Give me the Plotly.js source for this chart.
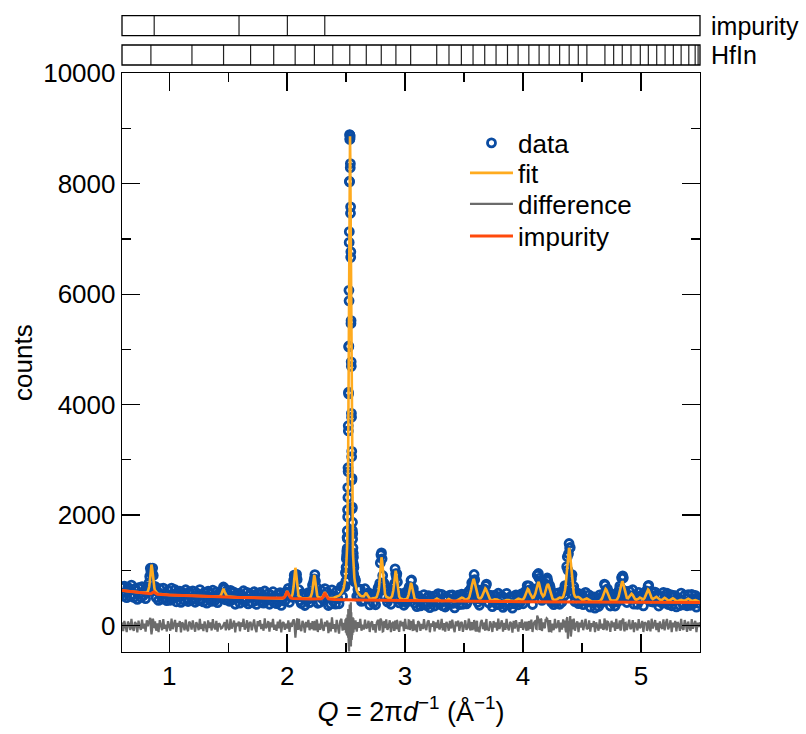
<!DOCTYPE html>
<html><head><meta charset="utf-8">
<script src="https://cdn.plot.ly/plotly-3.0.1.min.js"></script>
<style>html,body{margin:0;padding:0;background:#fff}#chart{width:806px;height:734px}</style>
</head><body><div id="chart"></div>
<script>
// Q (1/Angstrom) sampling points read along the pattern
const Q = [
0.60,0.61,0.62,0.63,0.64,0.65,0.66,0.67,0.68,0.69,
0.70,0.71,0.72,0.73,0.74,0.75,0.76,0.77,0.78,0.79,
0.80,0.81,0.82,0.83,0.84,0.85,0.86,0.87,0.88,0.89,
0.90,0.91,0.92,0.93,0.94,0.95,0.96,0.97,0.98,0.99,
1.00,1.01,1.02,1.03,1.04,1.05,1.06,1.07,1.08,1.09,
1.10,1.11,1.12,1.13,1.14,1.15,1.16,1.17,1.18,1.19,
1.20,1.21,1.22,1.23,1.24,1.25,1.26,1.27,1.28,1.29,
1.30,1.31,1.32,1.33,1.34,1.35,1.36,1.37,1.38,1.39,
1.40,1.41,1.42,1.43,1.44,1.45,1.46,1.47,1.48,1.49,
1.50,1.51,1.52,1.53,1.54,1.55,1.56,1.57,1.58,1.59,
1.60,1.61,1.62,1.63,1.64,1.65,1.66,1.67,1.68,1.69,
1.70,1.71,1.72,1.73,1.74,1.75,1.76,1.77,1.78,1.79,
1.80,1.81,1.82,1.83,1.84,1.85,1.86,1.87,1.88,1.89,
1.90,1.91,1.92,1.93,1.94,1.95,1.96,1.97,1.98,1.99,
2.00,2.01,2.02,2.03,2.04,2.05,2.06,2.07,2.08,2.09,
2.10,2.11,2.12,2.13,2.14,2.15,2.16,2.17,2.18,2.19,
2.20,2.21,2.22,2.23,2.24,2.25,2.26,2.27,2.28,2.29,
2.30,2.31,2.32,2.33,2.34,2.35,2.36,2.37,2.38,2.39,
2.40,2.41,2.42,2.43,2.44,2.45,2.46,2.47,2.48,
2.490,2.494,2.498,
2.500,2.501,2.502,2.503,2.504,2.505,2.506,2.507,2.508,2.509,
2.510,2.511,2.512,2.513,2.514,2.515,2.516,2.517,2.518,2.519,
2.520,2.521,2.522,2.523,2.524,2.525,2.526,2.527,2.528,2.529,
2.530,2.531,2.532,2.533,2.534,2.535,2.536,2.537,2.538,2.539,
2.540,2.541,2.542,2.543,2.544,2.545,2.546,2.547,2.548,2.549,
2.550,2.551,2.552,2.553,2.554,2.555,2.556,2.557,2.558,2.559,
2.560,2.561,2.562,2.563,2.564,2.565,2.566,
2.570,2.574,
2.58,2.59,
2.60,2.61,2.62,2.63,2.64,2.65,2.66,2.67,2.68,2.69,
2.70,2.71,2.72,2.73,2.74,2.75,2.76,2.77,2.78,2.79,
2.80,2.81,2.82,2.83,2.84,2.85,2.86,2.87,2.88,2.89,
2.90,2.91,2.92,2.93,2.94,2.95,2.96,2.97,2.98,2.99,
3.00,3.01,3.02,3.03,3.04,3.05,3.06,3.07,3.08,3.09,
3.10,3.11,3.12,3.13,3.14,3.15,3.16,3.17,3.18,3.19,
3.20,3.21,3.22,3.23,3.24,3.25,3.26,3.27,3.28,3.29,
3.30,3.31,3.32,3.33,3.34,3.35,3.36,3.37,3.38,3.39,
3.40,3.41,3.42,3.43,3.44,3.45,3.46,3.47,3.48,3.49,
3.50,3.51,3.52,3.53,3.54,3.55,3.56,3.57,3.58,3.59,
3.60,3.61,3.62,3.63,3.64,3.65,3.66,3.67,3.68,3.69,
3.70,3.71,3.72,3.73,3.74,3.75,3.76,3.77,3.78,3.79,
3.80,3.81,3.82,3.83,3.84,3.85,3.86,3.87,3.88,3.89,
3.90,3.91,3.92,3.93,3.94,3.95,3.96,3.97,3.98,3.99,
4.00,4.01,4.02,4.03,4.04,4.05,4.06,4.07,4.08,4.09,
4.10,4.11,4.12,4.13,4.14,4.15,4.16,4.17,4.18,4.19,
4.20,4.21,4.22,4.23,4.24,4.25,4.26,4.27,4.28,4.29,
4.30,4.31,4.32,4.33,4.34,4.35,4.36,4.37,4.38,4.39,
4.40,4.41,4.42,4.43,4.44,4.45,4.46,4.47,4.48,4.49,
4.50,4.51,4.52,4.53,4.54,4.55,4.56,4.57,4.58,4.59,
4.60,4.61,4.62,4.63,4.64,4.65,4.66,4.67,4.68,4.69,
4.70,4.71,4.72,4.73,4.74,4.75,4.76,4.77,4.78,4.79,
4.80,4.81,4.82,4.83,4.84,4.85,4.86,4.87,4.88,4.89,
4.90,4.91,4.92,4.93,4.94,4.95,4.96,4.97,4.98,4.99,
5.00,5.01,5.02,5.03,5.04,5.05,5.06,5.07,5.08,5.09,
5.10,5.11,5.12,5.13,5.14,5.15,5.16,5.17,5.18,5.19,
5.20,5.21,5.22,5.23,5.24,5.25,5.26,5.27,5.28,5.29,
5.30,5.31,5.32,5.33,5.34,5.35,5.36,5.37,5.38,5.39,
5.40,5.41,5.42,5.43,5.44,5.45,5.46,5.47,5.48,5.49,
5.50
];

// calculated pattern (fit), counts
const fitCounts = [
635,632,629,626,623,620,617,614,611,608,
605,603,600,598,596,594,591,595,595,594,
598,603,621,697,897,1103,919,730,635,599,
581,574,570,567,565,563,560,559,557,555,
552,551,550,549,548,548,547,546,545,544,
543,542,541,540,539,539,538,537,536,535,
534,533,533,532,531,531,530,529,529,528,
527,527,526,526,525,524,526,525,524,524,
524,525,527,531,554,611,667,610,551,528,
522,519,517,515,513,512,511,511,510,510,
509,508,508,507,507,506,506,505,505,504,
503,503,502,502,501,501,500,500,499,499,
498,497,497,496,496,495,495,494,494,493,
493,492,492,491,491,490,490,499,519,575,
626,580,534,522,537,618,832,1045,831,613,
528,508,500,493,490,492,492,493,496,501,
521,585,752,914,751,585,521,506,500,505,
520,564,603,560,516,501,499,496,499,501,
506,512,518,527,539,557,583,620,680,
784,848,936,
994,1027,1064,1106,1153,1207,1269,1340,1422,1516,
1626,1752,1896,2066,2258,2478,2727,3007,3318,3664,
4044,4454,4895,5362,5849,6349,6847,7332,7785,8184,
8510,8741,8861,8861,8741,8510,8184,7785,7332,6847,
6348,5848,5361,4894,4453,4043,3662,3316,3005,2725,
2476,2256,2064,1894,1750,1624,1514,1420,1338,1267,
1205,1151,1104,1062,1025,992,961,
864,795,
721,641,
594,563,540,530,522,528,560,593,550,508,
490,484,488,489,496,503,520,569,722,1013,
1235,1012,717,563,520,503,499,496,505,535,
639,839,991,835,630,523,492,479,474,471,
471,477,497,560,678,772,678,555,490,469,
460,457,454,452,451,449,446,446,445,445,
445,445,444,444,450,459,475,488,475,458,
449,445,443,442,447,455,470,481,469,454,
446,441,440,445,453,461,475,493,504,498,
481,471,468,477,498,554,653,776,843,776,
659,563,509,490,492,518,569,637,672,633,
562,506,474,460,458,465,474,479,471,458,
446,442,440,441,443,452,462,468,462,454,
446,441,442,445,456,470,485,479,468,464,
473,501,554,624,664,639,571,520,498,506,
547,629,734,792,731,629,555,526,547,613,
703,752,702,606,529,485,465,463,467,478,
493,505,500,501,520,578,706,945,1243,1405,
1243,948,712,581,525,511,516,517,503,482,
466,463,470,483,488,477,459,445,437,433,
437,435,432,434,437,444,460,492,550,623,
663,628,556,499,467,453,448,448,451,460,
483,530,623,738,801,743,630,541,498,493,
516,554,574,552,509,477,467,474,486,506,
491,477,474,496,548,612,649,611,541,498,
479,487,507,519,502,472,456,454,468,489,
501,489,466,452,451,464,480,492,480,457,
444,442,450,458,466,458,453,450,460,474,
486,474,460,448,449,458,460,453,439,428,
422
];

// observed minus calculated, counts
const residual = [
55,-100,84,-30,-118,72,20,-82,120,-48,
-95,64,28,-126,88,-16,-78,108,-55,34,
-112,94,-14,80,140,-160,120,-40,74,-95,
40,-120,96,-24,-86,114,-60,16,-108,78,
-30,-94,126,-66,24,100,-118,48,-20,80,
-124,58,14,-88,108,-50,-104,70,34,-74,
92,-40,-112,62,8,-84,120,-64,30,-100,
74,-14,-120,94,-46,54,-90,114,-26,-68,
84,-110,40,20,-54,-40,30,60,-88,106,
-38,-80,118,-56,14,90,-126,46,-10,70,
-104,54,-24,122,-74,-26,94,-114,40,64,
-86,20,110,-54,-120,78,-16,98,-64,26,
-94,128,-46,-16,80,-110,58,-34,118,-78,
14,-96,72,-50,106,-126,40,62,-80,34,
-54,94,-114,50,-26,74,80,-220,94,-74,
120,-60,-100,82,24,-130,64,-30,100,-86,
46,-66,-60,-70,54,106,-118,34,-80,126,
-40,-96,66,-20,90,-140,54,-106,146,-60,
26,-126,100,-40,-146,80,120,-94,46,
-80,110,-130,
60,-90,140,-60,100,-150,80,-40,170,-120,
90,-180,200,-100,240,-160,130,-220,300,-140,
180,-260,150,-300,220,-470,90,-200,260,-150,
380,60,20,-40,120,-220,180,-320,250,-180,
420,-380,160,-120,240,-200,110,-260,150,-90,
190,-140,80,-170,120,-60,150,-110,70,-130,
100,-80,130,-120,60,-100,90,
-70,60,
94,-112,
60,-40,120,-94,16,-74,106,-54,-26,86,
-118,40,74,-82,24,-128,54,100,-66,120,
80,-106,54,-46,110,-78,-20,94,-120,38,
66,-80,-54,100,-40,-114,86,-14,64,-104,
122,-58,-26,94,-80,40,-34,112,-88,18,
-120,78,48,-98,26,-64,114,-40,-82,60,
94,-122,38,-22,80,-106,58,-46,102,-72,
-24,120,-88,42,-112,66,16,-94,82,-54,
106,-38,-120,74,-14,88,-98,40,64,-114,
30,94,-78,-40,122,-60,24,-80,-34,54,
-106,86,-26,-124,50,100,-66,26,-88,118,
-46,-96,74,18,-118,80,-34,56,-94,126,
-64,16,94,-112,48,-78,120,-30,-88,66,
38,-128,82,-54,98,-18,-110,62,-40,112,
-80,24,66,-94,-40,80,-60,106,-118,40,
74,-54,180,150,-80,120,-100,54,-26,94,
130,54,-120,80,-106,34,-86,118,-48,-16,
96,-120,54,-74,112,-40,-80,120,-240,80,
170,-106,-54,126,-94,24,74,-122,54,-38,
100,-86,14,118,-66,-48,94,-112,42,-24,
80,-120,58,-16,-94,110,-54,34,-78,126,
-40,-88,66,18,-114,86,-30,54,-98,120,
-58,-26,90,-66,80,120,-106,46,-82,22,
106,-64,-40,96,-122,54,14,-90,114,-48,
-18,82,-118,58,38,-94,66,-34,-106,122,
-54,24,98,-82,48,-120,74,-26,-62,112,
-88,40,118,-72,-14,94,-122,54,-32,82,
-106,62,16,-96,120,-48,-78,98,26,-116,
72,-40,-94,114,-58,22,86,-120,50,-26,
60
];

// extra points read on the flanks of the stronger Bragg peaks
const peakQ = [
0.825,0.835,0.845,0.855,0.865,0.875,
2.045,2.055,2.065,2.075,2.085,2.095,
2.205,2.215,2.225,2.235,2.245,2.255,
2.775,2.785,2.795,2.805,2.815,2.825,
2.895,2.905,2.915,2.925,2.935,2.945,
3.025,3.035,3.045,3.055,3.065,3.075,
3.545,3.555,3.565,3.575,3.585,3.595,3.605,3.615,
3.665,3.675,3.685,3.695,
4.025,4.035,4.045,4.055,
4.105,4.115,4.125,4.135,4.145,4.155,
4.185,4.195,4.205,4.215,4.225,4.235,
4.355,4.365,4.375,4.385,4.395,4.405,4.415,4.425,
4.685,4.695,4.705,4.715,
4.815,4.825,4.835,4.845,4.855,4.865,
5.045,5.055,5.065,5.075
];
const peakFit = [
646,779,1036,1045,807,670,
563,706,977,977,702,557,
543,654,862,861,654,543,
627,853,1169,1168,849,621,
567,723,937,936,717,561,
516,611,744,744,610,514,
521,598,715,824,824,719,605,530,
603,662,661,597,
591,653,655,596,
582,679,771,765,675,584,
575,658,740,737,649,558,
633,812,1094,1360,1360,1094,812,627,
587,652,652,592,
571,680,784,788,686,580,
577,639,638,576
];
const peakResidual = [
40,110,-60,-90,100,-30,
60,110,-120,-90,130,-40,
-50,80,-70,60,-90,70,
70,-90,110,40,-100,80,
60,-80,90,-50,70,-90,
-70,90,-40,80,-100,50,
70,-90,60,-60,100,-80,50,-110,
50,-70,60,-80,
-60,70,-90,50,
80,-60,140,90,-40,110,
-50,90,120,-40,80,-100,
90,-120,150,-60,40,-200,110,-70,
-60,80,-40,70,
70,-90,80,110,-60,40,
50,-70,90,-50
];

// impurity phase contribution (background + impurity peaks)
const impurityQ = [0.60,0.70,0.80,0.84,0.85,0.86,0.87,0.88,0.89,0.90,1.00,1.20,1.40,1.60,1.80,1.96,1.97,1.98,1.99,2.00,2.01,2.02,2.03,2.04,2.05,2.20,2.28,2.29,2.30,2.31,2.32,2.33,2.34,2.35,2.36,2.40,2.60,2.80,3.00,3.20,3.40,3.60,3.80,4.00,4.20,4.40,4.60,4.80,5.00,5.20,5.40,5.50];
const impurityCounts = [635,605,582,575,583,597,610,593,576,565,552,534,521,509,498,490,499,519,569,618,569,517,497,492,489,479,476,484,501,546,589,545,499,482,478,471,463,456,450,445,441,437,434,431,428,426,424,422,420,418,416,415];

// reflection positions (Q) shown in the top panels
const hfinReflections = [0.845,1.193,1.461,1.690,1.886,2.068,2.231,2.387,2.531,2.671,2.798,2.922,3.047,3.268,3.372,3.477,3.576,3.675,3.771,3.868,3.958,4.049,4.136,4.221,4.310,4.391,4.468,4.541,4.694,4.768,4.841,4.915,4.994,5.062,5.133,5.204,5.274,5.340,5.405,5.459,5.484];
const impurityReflections = [0.873,1.592,2.002,2.319];

const seriesNames = ['data','fit','difference','impurity'];
const panelLabels = ['impurity','HfIn'];
const xTickVals = [1,2,3,4,5];
const yTickVals = [0,2000,4000,6000,8000,10000];

// merge the regular samples with the peak-flank samples, ordered by Q
const rows = Q.map((q,i)=>({q, f:fitCounts[i], r:residual[i]}))
  .concat(peakQ.map((q,i)=>({q, f:peakFit[i], r:peakResidual[i]})))
  .sort((a,b)=>a.q-b.q);
const allQ = rows.map(p=>p.q);
const allFit = rows.map(p=>p.f);
const dataCounts = rows.map(p=>p.f+p.r);
const diffCounts = rows.map(p=>p.r);

function tickLines(list){
  const xs=[],ys=[];
  list.forEach(q=>{xs.push(q,q,null);ys.push(0,1,null);});
  return {xs,ys};
}
const hfinLines = tickLines(hfinReflections);
const impLines = tickLines(impurityReflections);

const FONT = 'Liberation Sans, Arial, Helvetica, sans-serif';
const traces = [
  {x:allQ, y:dataCounts, name:seriesNames[0], type:'scatter', mode:'markers', legend:'legend',
   marker:{symbol:'circle-open', size:8, color:'#0b4ca2', line:{width:2.8, color:'#0b4ca2'}}},
  {x:allQ, y:allFit, name:seriesNames[1], type:'scatter', mode:'lines', legend:'legend2',
   line:{color:'#ffab1f', width:2.6}},
  {x:allQ, y:diffCounts, name:seriesNames[2], type:'scatter', mode:'lines', legend:'legend3',
   line:{color:'#6b6b6b', width:2.2}},
  {x:impurityQ, y:impurityCounts, name:seriesNames[3], type:'scatter', mode:'lines', legend:'legend4',
   line:{color:'#ff4a0c', width:3}},
  {x:hfinLines.xs, y:hfinLines.ys, xaxis:'x', yaxis:'y2', type:'scatter', mode:'lines',
   line:{color:'#222', width:1.2}, showlegend:false, hoverinfo:'skip'},
  {x:impLines.xs, y:impLines.ys, xaxis:'x', yaxis:'y3', type:'scatter', mode:'lines',
   line:{color:'#222', width:1.2}, showlegend:false, hoverinfo:'skip'}
];

const axisCommon = {showline:true, linecolor:'#000', linewidth:1.3, mirror:'ticks',
  ticks:'inside', ticklen:18, tickwidth:1.3, tickcolor:'#000', showgrid:false, zeroline:false,
  tickfont:{family:FONT, size:26, color:'#000'}};

function legendAt(ypx){
  return {x:0.5934, y:(652-ypx)/637, xanchor:'left', yanchor:'middle', bgcolor:'rgba(0,0,0,0)',
    itemwidth:43, font:{family:FONT, size:26, color:'#000'}};
}

const layout = {
  width:806, height:734,
  margin:{l:122, r:106, t:15, b:82},
  paper_bgcolor:'#fff', plot_bgcolor:'#fff',
  font:{family:FONT, size:26, color:'#000'},
  showlegend:true,
  legend:legendAt(143), legend2:legendAt(173), legend3:legendAt(204), legend4:legendAt(236),
  xaxis:Object.assign({}, axisCommon, {
    range:[0.6,5.5], domain:[0,1], anchor:'y',
    tickmode:'array', tickvals:xTickVals, ticktext:xTickVals.map(String),
    minor:{tickmode:'array', tickvals:[1.5,2.5,3.5,4.5], ticks:'inside', ticklen:9, tickwidth:1.3, tickcolor:'#000'},
    title:{text:'<i>Q</i> = 2π<i>d</i><sup>−1</sup> (Å<sup>−1</sup>)', font:{family:FONT, size:27, color:'#000'}, standoff:12}
  }),
  yaxis:Object.assign({}, axisCommon, {
    range:[-480,10000], domain:[0,0.9085], anchor:'x',
    tickmode:'array', tickvals:yTickVals, ticktext:yTickVals.map(String),
    minor:{tickmode:'array', tickvals:[1000,3000,5000,7000,9000], ticks:'inside', ticklen:9, tickwidth:1.3, tickcolor:'#000'},
    title:{text:'counts', font:{family:FONT, size:26, color:'#000'}, standoff:3}
  }),
  yaxis2:{domain:[0.9215,0.9529], range:[0,1], anchor:'x', visible:false, fixedrange:true},
  yaxis3:{domain:[0.9675,0.999], range:[0,1], anchor:'x', visible:false, fixedrange:true},
  shapes:[
    {type:'rect', xref:'x domain', yref:'y2 domain', x0:0, x1:1, y0:0, y1:1, line:{color:'#000', width:1.3}},
    {type:'rect', xref:'x domain', yref:'y3 domain', x0:0, x1:1, y0:0, y1:1, line:{color:'#000', width:1.3}}
  ],
  annotations:[
    {text:panelLabels[0], xref:'paper', yref:'y3 domain', x:1.016, y:0.5, xanchor:'left', yanchor:'middle', showarrow:false, font:{family:FONT, size:25, color:'#000'}},
    {text:panelLabels[1], xref:'paper', yref:'y2 domain', x:1.016, y:0.5, xanchor:'left', yanchor:'middle', showarrow:false, font:{family:FONT, size:25, color:'#000'}}
  ]
};

Plotly.newPlot('chart', traces, layout, {displayModeBar:false, staticPlot:true});
</script>
</body></html>
